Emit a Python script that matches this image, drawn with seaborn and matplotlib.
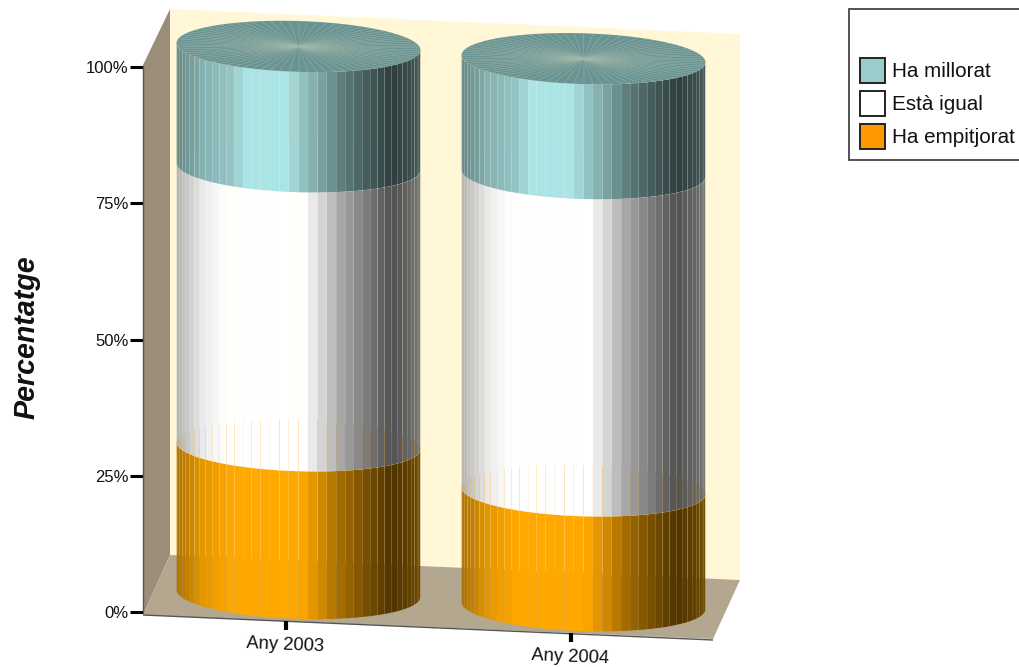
import numpy as np
import seaborn as sns
import matplotlib.pyplot as plt
from matplotlib.colors import to_rgb
from matplotlib.patches import Patch, Polygon, Rectangle
from matplotlib.transforms import Affine2D

# Data
years = ['Any 2003', 'Any 2004']
ha_empitjorat = [27, 21]
esta_igual = [51, 58]
ha_millorat = [22, 21]
y_ticks = [0, 25, 50, 75, 100]
y_tick_labels = ['0%', '25%', '50%', '75%', '100%']

# Look of the cylinders
colors = ['#ffa800', '#ffffff', '#abe4e4']
gains = [1.15, 1.18, 1.0]
cap_colors = ['#ffb030', '#f8f8f8', '#6a9494']
shade_pos = [0, .11, .22, .29, .45, .52, .59, .67, .77, .88, 1]
shade_val = [.58, .78, .86, 1, 1, .85, .72, .56, .42, .27, .38]
n_strips = 40
drop = 4.65
tilt = 0.31
gap = 0.0005

W, H = 1019, 667
sns.set_theme(style='white')
plt.rcParams['font.family'] = ['Liberation Sans', 'DejaVu Sans']

fig = plt.figure(figsize=(W / 100, H / 100), dpi=100)
ax = fig.add_axes([143 / W, (H - 612) / H, 570 / W, 545 / H])
ax.patch.set_alpha(0)

# Frame of the 3D box, in pixels of the picture
px = Affine2D().scale(1, -1).translate(0, H)
back = Polygon([(170, 9), (740, 34), (740, 580), (170, 555)], fc='#fff7d6', ec='none', transform=px, zorder=-3)
side = Polygon([(170, 9), (143, 65), (143, 615), (170, 555)], fc='#9a8e7a', ec='none', transform=px, zorder=-2)
floor = Polygon([(170, 555), (740, 580), (713, 639), (143, 615)], fc='#b4a790', ec='none', transform=px, zorder=-2)
edge = Polygon([(143, 615), (713, 640)], closed=False, fill=False, ec='#555555', lw=1, transform=px, zorder=-1)
for p in [back, side, floor, edge]:
    fig.add_artist(p)

# Stacked bars give the size and place of each cylinder
tops = np.cumsum([ha_empitjorat, esta_igual, ha_millorat], axis=0)
bars = []
for i in range(3):
    sns.barplot(x=years, y=tops[i], color=colors[i], saturation=1, width=.856, ax=ax)
    new = ax.patches[-2:]
    bars.append([(b.get_x(), b.get_width(), b.get_height()) for b in new])
for b in ax.patches:
    b.set_visible(False)

ax.set_xlim(-.5, 1.5)
ax.set_ylim(0, 100)
slope = -.043
front = Affine2D.from_values(1, slope, 0, 1, 0, -slope * 143)
depth = Affine2D.from_values(1, slope, 0, 1.0037, 13, 30.6)
cyl = ax.transData + depth
flat = ax.transData + front


def ring(cx, hw, v, t):
    return cx + hw * np.cos(t), v - drop * np.sin(t) + tilt * np.cos(t)


for k in range(2):
    for i in range(3):
        x0, w, top = bars[i][k]
        low = tops[i - 1][k] if i > 0 else 0
        cx, hw = x0 + w / 2, w / 2
        rgb = np.array(to_rgb(colors[i]))
        edges = np.linspace(np.pi, 0, n_strips + 1)
        for a, b in zip(edges[:-1], edges[1:]):
            xa, _ = ring(cx, hw, 0, a)
            xb, _ = ring(cx, hw, 0, b)
            frac = ((xa + xb) / 2 - (cx - hw)) / w
            shade = min(1, np.interp(frac, shade_pos, shade_val) * gains[i])
            col = rgb * shade
            ts = np.array([a, b])
            xs, y_low = ring(cx, hw, low, ts)
            _, y_top = ring(cx, hw, top, ts)
            # a hair of space between strips lets what is behind shine through
            xs[1] = xs[1] - gap
            ax.fill([xs[0], xs[1], xs[1], xs[0]], [y_low[0], y_low[1], y_top[1], y_top[0]], color=col, lw=0,
                    transform=cyl, clip_on=False, zorder=3 + i * 2 + k * 10, snap=False)
        t = np.linspace(0, 2 * np.pi, 81)
        xc, yc = ring(cx, hw, top, t)
        ax.fill(xc, yc, color=cap_colors[i], lw=0, transform=cyl, clip_on=False, zorder=4 + i * 2 + k * 10)
        if i == 2:
            # fan on the lid
            for a in t[:-1]:
                xf, yf = ring(cx, hw, top, a)
                ax.plot([cx, xf], [top, yf], color='#a4baaa', lw=.3, transform=cyl, clip_on=False,
                        zorder=5 + i * 2 + k * 10)

# Axes
ax.set_xlim(-.5, 1.5)
ax.set_ylim(0, 100)
ax.set_yticks(y_ticks)
ax.set_yticklabels(y_tick_labels, fontsize=12, color='#111111')
ax.tick_params(axis='y', length=9.4, width=2.2, color='black', pad=1, left=True)
ax.set_xticks([])
ax.set_xlabel('')
sns.despine(ax=ax, left=False, bottom=True, top=True, right=True)
ax.spines['left'].set_color('#555555')
ax.spines['left'].set_linewidth(1)
ax.set_ylabel('Percentatge', fontsize=20.6, fontweight='bold', fontstyle='italic', color='#111111')
ax.yaxis.set_label_coords(-.179, .504)
for pos, name in zip(range(2), years):
    ax.plot([pos, pos], [-.55, -2.2], color='black', lw=3, solid_capstyle='butt', transform=flat, clip_on=False)
    ax.text(pos, -4.9, name, fontsize=13.2, color='#111111', ha='center', va='center', rotation=-2.4,
            rotation_mode='anchor', transform=flat, clip_on=False)

# Legend
fig.add_artist(Rectangle((848.5, 8.5), 190, 151.5, fc='white', ec='#444444', lw=1.3, transform=px, zorder=5))
handles = [Patch(fc=c, ec='#222222', lw=1.4) for c in ['#99cccc', '#ffffff', '#ff9900']]
fig.legend(handles, ['Ha millorat', 'Està igual', 'Ha empitjorat'], loc='upper left',
           bbox_to_anchor=(860 / W, 1 - 58 / H), frameon=False, fontsize=14.9, borderpad=0, borderaxespad=0,
           handlelength=1.2, handleheight=1.48, labelspacing=.386, handletextpad=.34,
           labelcolor='#111111').set_zorder(6)

plt.savefig('out.png', dpi=100)
